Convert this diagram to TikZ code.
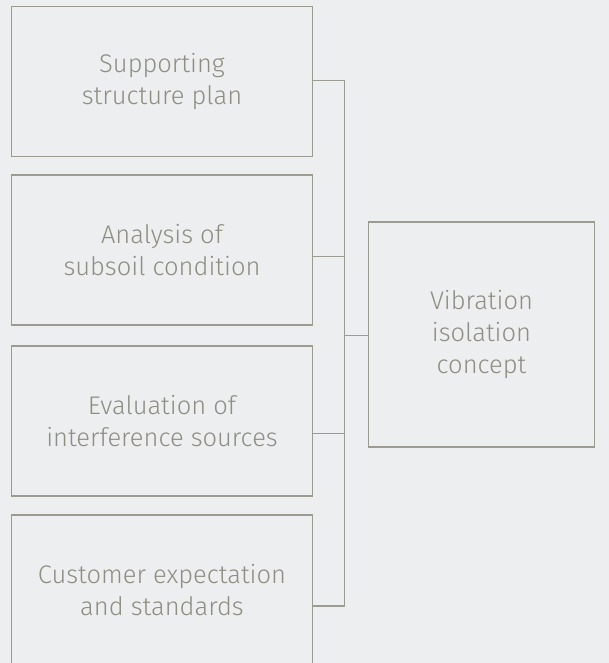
\documentclass[tikz,border=0pt]{standalone}
\usepackage{fontspec}
\setmainfont{Fira Sans}[UprightFont={* Light}]
\definecolor{bgc}{HTML}{EDEEF0}
\definecolor{linec}{HTML}{9C9B91}
\definecolor{textc}{HTML}{8F8E83}
\begin{document}
\begin{tikzpicture}[x=1pt,y=-1pt,
  box/.style={draw=linec,line width=1.2pt,inner sep=0pt,
    minimum width=301pt,minimum height=150pt,align=center,
    text=textc,font=\fontsize{25.5}{31.7}\selectfont},
  conn/.style={draw=linec,line width=1.2pt}]
\useasboundingbox (0,0) rectangle (609,663);
\fill[bgc] (0,0) rectangle (609,663);
\clip (0,0) rectangle (609,663);
\node[box] (b1) at (162,81.5) {Supporting\\structure plan};
\node[box] (b2) at (162,250) {Analysis of\\subsoil condition};
\node[box] (b3) at (162,421) {Evaluation of\\interference sources};
\node[box] (b4) at (162,590) {Customer expectation\\and standards};
\node[box,minimum width=225.5pt,minimum height=225pt] (r) at (481.5,334.5) {Vibration\\isolation\\concept};
\coordinate (j) at (344.7,335.3);
\coordinate (t1) at (344.7,80.7);
\coordinate (t2) at (344.7,256.7);
\coordinate (t3) at (344.7,433.3);
\coordinate (t4) at (344.7,606);
\draw[conn] (b1.east |- t1) -- (t1) -- (t4) -- (b4.east |- t4);
\draw[conn] (b2.east |- t2) -- (t2);
\draw[conn] (b3.east |- t3) -- (t3);
\draw[conn] (j) -- (r.west |- j);
\end{tikzpicture}
\end{document}
